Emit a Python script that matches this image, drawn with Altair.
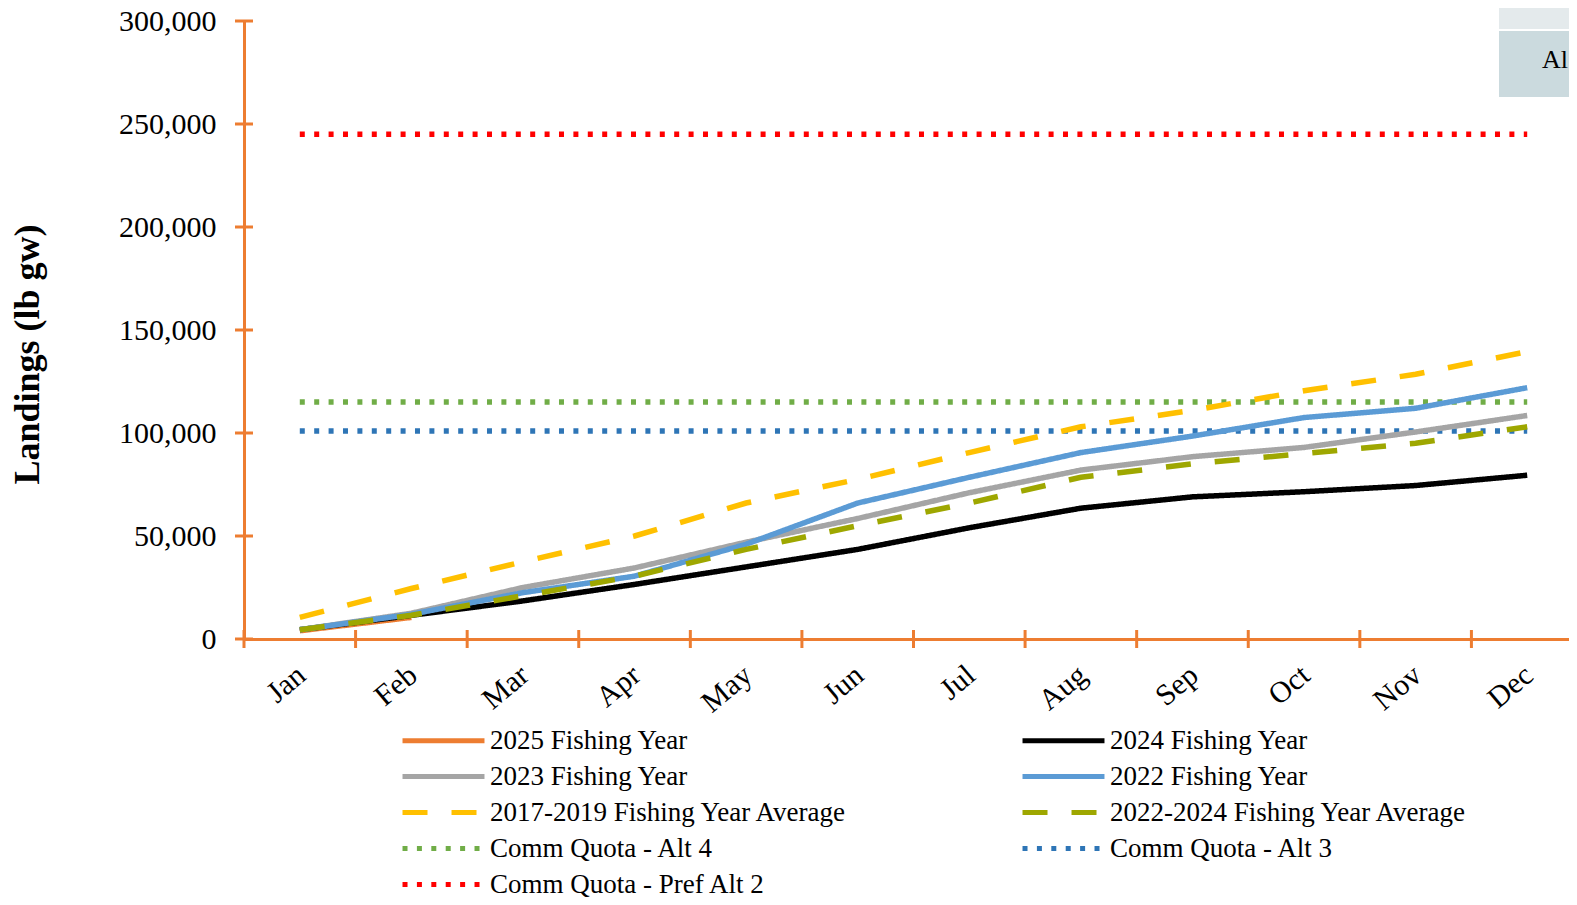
import altair as alt
import pandas as pd

# ---------------- data ----------------
months = ["Jan", "Feb", "Mar", "Apr", "May", "Jun", "Jul", "Aug", "Sep", "Oct", "Nov", "Dec"]

fy2025 = [4000, 10500]
fy2024 = [4500, 11500, 18500, 26500, 35000, 43500, 54000, 63500, 69000, 71500, 74500, 79500]
fy2023 = [4500, 12500, 25000, 34500, 47000, 58500, 71000, 82000, 88500, 93000, 100500, 108500]
fy2022 = [4500, 12000, 22500, 30500, 46000, 66000, 78500, 90500, 98500, 107500, 112000, 122000]
avg_2017_2019 = [10500, 24500, 37500, 50000, 66000, 77500, 90500, 103000, 111000, 120500, 128500, 139500]
avg_2022_2024 = [4500, 11500, 21000, 30500, 43500, 55000, 66000, 78500, 85000, 90000, 95000, 103000]
quota_alt4 = 115000
quota_alt3 = 101000
quota_pref_alt2 = 245000

y_ticks = [0, 50000, 100000, 150000, 200000, 250000, 300000]

legend_order = [
    "2025 Fishing Year", "2024 Fishing Year",
    "2023 Fishing Year", "2022 Fishing Year",
    "2017-2019 Fishing Year Average", "2022-2024 Fishing Year Average",
    "Comm Quota - Alt 4", "Comm Quota - Alt 3",
    "Comm Quota - Pref Alt 2",
]
series_colors = ["#ED7D31", "#000000", "#A5A5A5", "#5B9BD5", "#FFC000", "#9EA700",
                 "#70AD47", "#2E75B6", "#FF0000"]
SOLID, DASH, DOT = [1, 0], [25, 24], [5, 9.4]
series_dashes = [SOLID, SOLID, SOLID, SOLID, DASH, DASH, DOT, DOT, DOT]

# drawing order (later = on top)
series_values = [
    ("2025 Fishing Year", fy2025),
    ("Comm Quota - Pref Alt 2", [quota_pref_alt2] * len(months)),
    ("Comm Quota - Alt 4", [quota_alt4] * len(months)),
    ("Comm Quota - Alt 3", [quota_alt3] * len(months)),
    ("2024 Fishing Year", fy2024),
    ("2023 Fishing Year", fy2023),
    ("2022 Fishing Year", fy2022),
    ("2017-2019 Fishing Year Average", avg_2017_2019),
    ("2022-2024 Fishing Year Average", avg_2022_2024),
]

rows = []
order = 0
for name, vals in series_values:
    for i, v in enumerate(vals):
        rows.append({"series": name, "month": months[i], "value": v, "ord": order})
    order += 1
df = pd.DataFrame(rows)

df_yt = pd.DataFrame({"value": y_ticks})
df_xt = pd.DataFrame({"month": months, "value": [0] * len(months)})

# ---------------- style ----------------
ORANGE = "#ED7D31"
FONT = "Liberation Serif"
PLOT_W = 1325
X_RANGE = 1339
PLOT_H = 618

x_scale = alt.Scale(type="band", domain=months, range=[0, X_RANGE], paddingInner=0, paddingOuter=0)
y_scale = alt.Scale(domain=[0, 300000], nice=False, zero=True)

x_axis = alt.Axis(
    title=None, labelAngle=320, labelAlign="right", labelBaseline="middle",
    labelPadding=32, labelOffset=2, labelFont=FONT, labelFontSize=30, labelColor="black",
    domainColor=ORANGE, domainWidth=3, ticks=False, tickSize=0, grid=False,
    labelOverlap=False,
)
y_axis = alt.Axis(
    values=y_ticks, labelExpr="format(datum.value, ',')", title="Landings (lb gw)", titleFont=FONT,
    titleFontSize=36, titleFontWeight="bold", titleColor="black",
    titleX=-217, titleY=333, titleAngle=270, titleAlign="center", titleBaseline="middle",
    labelFont=FONT, labelFontSize=30, labelColor="black", labelPadding=28,
    domainColor=ORANGE, domainWidth=3, ticks=False, tickSize=0, grid=False,
)

legend = alt.Legend(
    title=None, orient="none", direction="horizontal", legendX=158, legendY=706, columns=2,
    columnPadding=164, rowPadding=8, symbolType="M-4,0H4", symbolSize=420,
    symbolStrokeWidth=5, symbolOffset=28, labelFont=FONT, labelFontSize=27, labelColor="black",
    labelLimit=600, labelOffset=33, gridAlign="all", padding=0,
)

lines = alt.Chart(df).mark_line(strokeWidth=5.5).encode(
    x=alt.X("month:N", bandPosition=0.5, scale=x_scale, axis=x_axis),
    y=alt.Y("value:Q", scale=y_scale, axis=y_axis),
    color=alt.Color("series:N", scale=alt.Scale(domain=legend_order, range=series_colors), legend=legend),
    strokeDash=alt.StrokeDash("series:N", scale=alt.Scale(domain=legend_order, range=series_dashes), legend=legend),
    detail="series:N",
    order="ord:Q",
)

y_ticks_layer = alt.Chart(df_yt).mark_tick(orient="horizontal", size=18, thickness=3, color=ORANGE,
                                           opacity=1).encode(
    x=alt.value(0),
    y=alt.Y("value:Q", scale=y_scale, axis=y_axis),
)
x_ticks_layer = alt.Chart(df_xt).mark_tick(orient="vertical", size=18, thickness=3, color=ORANGE,
                                           opacity=1).encode(
    x=alt.X("month:N", bandPosition=0, scale=x_scale, axis=x_axis),
    y=alt.Y("value:Q", scale=y_scale, axis=y_axis),
)

# cropped table fragment in the top-right corner of the source image
corner = pd.DataFrame({"label": ["Al"]})
box1 = alt.Chart(corner).mark_rect(color="#E4EAEC").encode(
    x=alt.value(1255), x2=alt.value(1340), y=alt.value(-13), y2=alt.value(8))
box2 = alt.Chart(corner).mark_rect(color="#CBDADE").encode(
    x=alt.value(1255), x2=alt.value(1340), y=alt.value(10), y2=alt.value(76))
box_text = alt.Chart(corner).mark_text(font=FONT, fontSize=26, align="left", baseline="alphabetic",
                                       color="black").encode(
    x=alt.value(1298), y=alt.value(47), text="label:N")

chart = alt.layer(lines, y_ticks_layer, x_ticks_layer, box1, box2, box_text).properties(
    width=PLOT_W, height=PLOT_H,
    autosize=alt.AutoSizeParams(type="none"),
    padding={"left": 236, "top": 13, "right": 0, "bottom": 258},
).configure_view(stroke=None)

chart.save("out.html", embed_options={"renderer": "svg", "actions": False})
